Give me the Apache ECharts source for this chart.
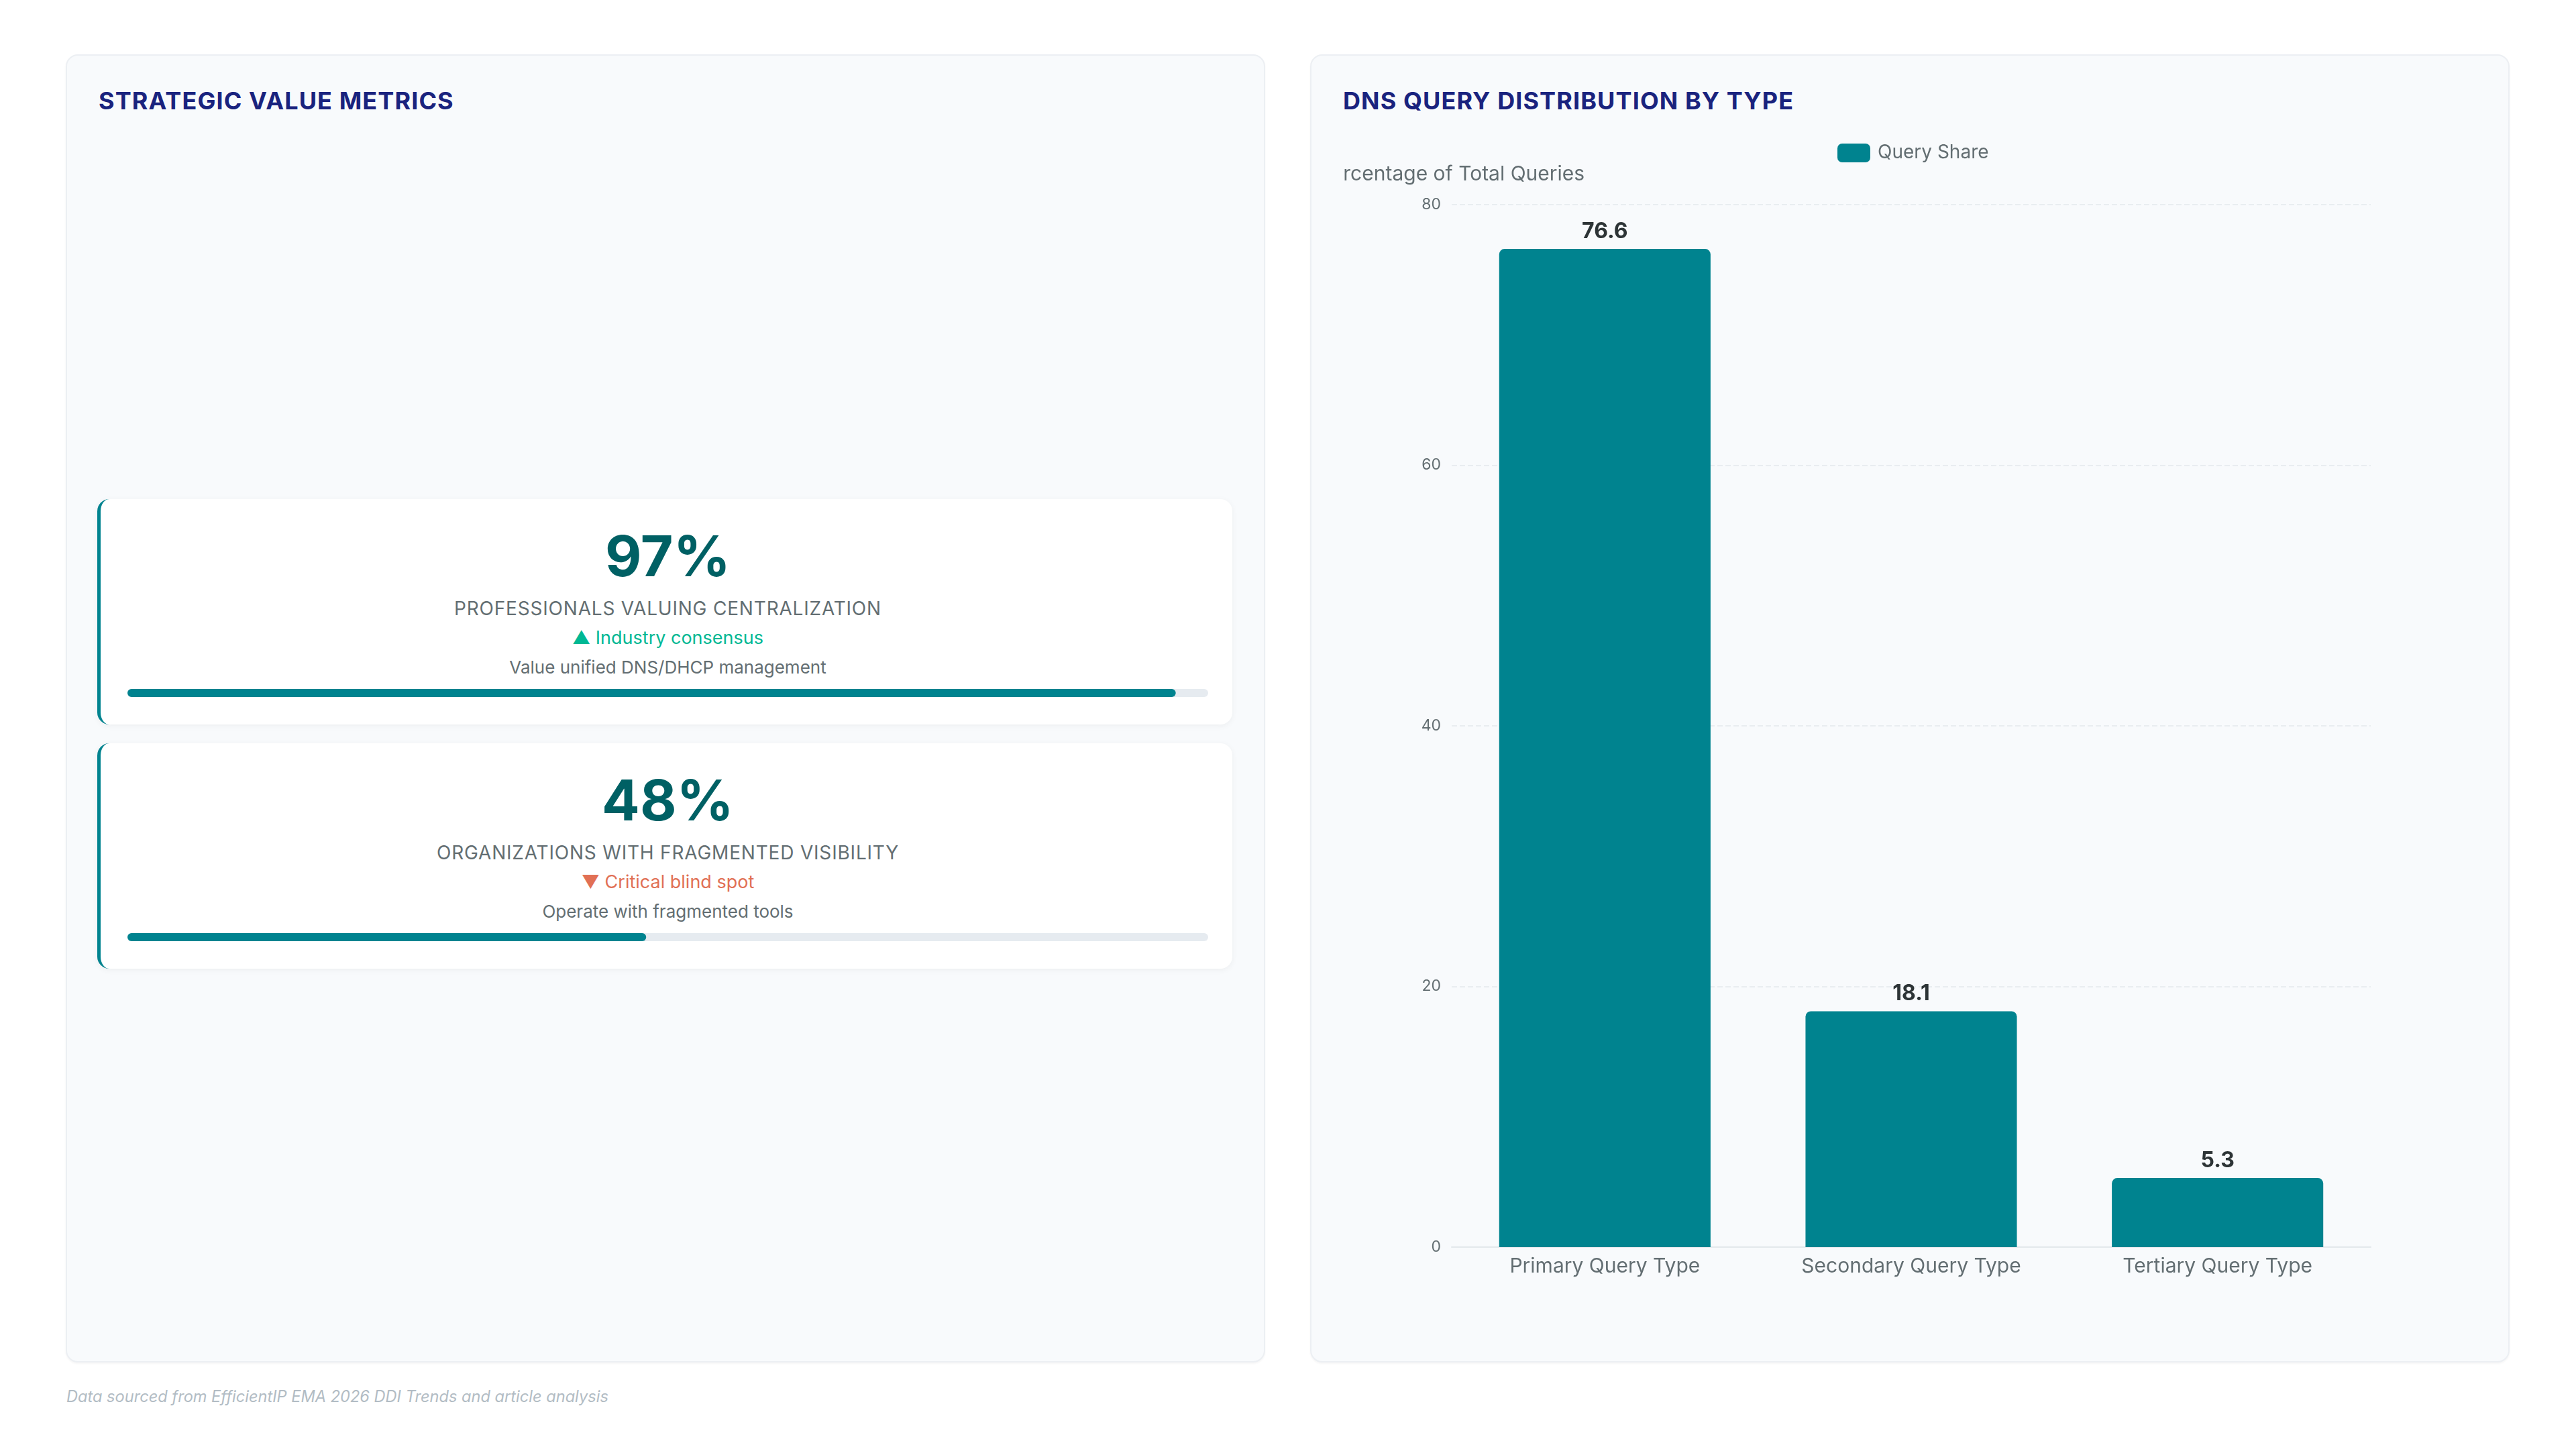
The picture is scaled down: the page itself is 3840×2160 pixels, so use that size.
<!DOCTYPE html>
<html>
<head>
<meta charset="utf-8">
<title>DDI Strategic Metrics</title>
<script src="https://cdn.jsdelivr.net/npm/echarts@6.0.0/dist/echarts.min.js"></script>
<style>
  html, body { margin: 0; padding: 0; background: #ffffff; font-family: Inter, "Noto Sans", sans-serif; }
  .page { position: relative; width: 3840px; height: 2160px; overflow: hidden; }
  .panel {
    position: absolute; top: 81px; width: 1788px; height: 1950px; box-sizing: border-box;
    background: #f8fafc; border: 2px solid #eceff3; border-radius: 18px;
    box-shadow: 0 2px 3px rgba(0, 0, 0, 0.04);
  }
  .panel.left { left: 98px; }
  .panel.right { left: 1953px; }
  .panel h2 {
    position: absolute; left: 47px; top: 45px; margin: 0; line-height: 44px;
    font-size: 36px; font-weight: 700; color: #1a237e; letter-spacing: 1.1px;
  }
  .card {
    position: absolute; left: 45px; width: 1692px; height: 336px; box-sizing: border-box;
    background: #ffffff; border-left: 5px solid #00838f; border-radius: 18px;
    box-shadow: 0 2px 10px rgba(0, 0, 0, 0.05);
    padding: 34px 36px 0 40px; text-align: center;
  }
  .card .value { font-size: 84px; font-weight: 700; line-height: 101px; color: #006064; }
  .card .label { margin-top: 11px; font-size: 28px; line-height: 34px; color: #636e72; letter-spacing: 0.8px; }
  .card .tag { margin-top: 10px; font-size: 27px; line-height: 34px; }
  .card .tag.up { color: #00b894; }
  .card .tag.down { color: #e17055; }
  .card .desc { margin-top: 12px; font-size: 26px; line-height: 30px; color: #636e72; }
  .card .bar { margin-top: 17px; width: 1611px; height: 12px; }
  #chart { position: absolute; left: 46px; top: 107px; width: 1692px; height: 1791px; }
  .footer {
    position: absolute; left: 99px; top: 2067px; font-size: 23.6px; font-style: italic; color: #b2bcc4;
  }
</style>
</head>
<body>
<div class="page">
  <div class="panel left">
    <h2>STRATEGIC VALUE METRICS</h2>
    <div id="cards"></div>
  </div>
  <div class="panel right">
    <h2>DNS QUERY DISTRIBUTION BY TYPE</h2>
    <div id="chart"></div>
  </div>
  <div class="footer">Data sourced from EfficientIP EMA 2026 DDI Trends and article analysis</div>
</div>
<script>
  // KPI cards
  const kpiValues = [97, 48];
  const kpiLabels = ["PROFESSIONALS VALUING CENTRALIZATION", "ORGANIZATIONS WITH FRAGMENTED VISIBILITY"];
  const kpiTags = ["▲ Industry consensus", "▼ Critical blind spot"];
  const kpiTagTypes = ["up", "down"];
  const kpiDescs = ["Value unified DNS/DHCP management", "Operate with fragmented tools"];

  // main bar chart
  const categories = ["Primary Query Type", "Secondary Query Type", "Tertiary Query Type"];
  const queryShare = [76.6, 18.1, 5.3];
  const yTicks = { min: 0, max: 80, interval: 20 };

  const cardTops = [661, 1025];
  const cardsEl = document.getElementById("cards");

  kpiValues.forEach(function (v, i) {
    const card = document.createElement("div");
    card.className = "card";
    card.style.top = cardTops[i] + "px";
    card.innerHTML =
      '<div class="value">' + v + '%</div>' +
      '<div class="label">' + kpiLabels[i] + '</div>' +
      '<div class="tag ' + kpiTagTypes[i] + '">' + kpiTags[i] + '</div>' +
      '<div class="desc">' + kpiDescs[i] + '</div>' +
      '<div class="bar"></div>';
    cardsEl.appendChild(card);

    // progress bar for the card
    const bar = echarts.init(card.querySelector(".bar"));
    bar.setOption({
      animation: false,
      grid: { left: 0, right: 0, top: 0, bottom: 0, outerBoundsMode: "none" },
      xAxis: { type: "value", min: 0, max: 100, show: false },
      yAxis: { type: "category", data: [kpiLabels[i]], show: false },
      series: [{
        type: "bar",
        data: [v],
        barWidth: 12,
        showBackground: true,
        backgroundStyle: { color: "#e6ebf0", borderRadius: 6 },
        itemStyle: { color: "#00838f", borderRadius: 6 }
      }]
    });
  });

  const chart = echarts.init(document.getElementById("chart"));
  chart.setOption({
    animation: false,
    textStyle: { fontFamily: "Inter" },
    legend: {
      data: ["Query Share"],
      top: 19,
      left: 733,
      itemWidth: 49,
      itemHeight: 28,
      itemGap: 10,
      textStyle: { fontSize: 28, color: "#636e72", padding: [0, 0, 0, 6] }
    },
    grid: { left: 163, right: 159, top: 115, bottom: 122, outerBoundsMode: "none" },
    xAxis: {
      type: "category",
      data: categories,
      axisLine: { lineStyle: { color: "#e3e8ec", width: 2 } },
      axisTick: { show: false },
      axisLabel: { fontSize: 30, color: "#636e72", margin: 14 }
    },
    yAxis: {
      type: "value",
      min: yTicks.min,
      max: yTicks.max,
      interval: yTicks.interval,
      name: "Percentage of Total Queries",
      nameLocation: "end",
      nameGap: 30,
      nameTextStyle: { fontSize: 30, color: "#636e72", align: "center" },
      axisLine: { show: false },
      axisLabel: { fontSize: 23, color: "#636e72", margin: 16 },
      splitLine: { lineStyle: { type: "dashed", color: "#e9edf0", width: 2 } }
    },
    series: [{
      name: "Query Share",
      type: "bar",
      data: queryShare,
      barWidth: "69%",
      itemStyle: { color: "#00838f", borderRadius: [8, 8, 0, 0] },
      label: {
        show: true,
        position: "top",
        distance: 10,
        fontSize: 32,
        fontWeight: "bold",
        color: "#2d3436"
      }
    }]
  });
</script>
</body>
</html>
